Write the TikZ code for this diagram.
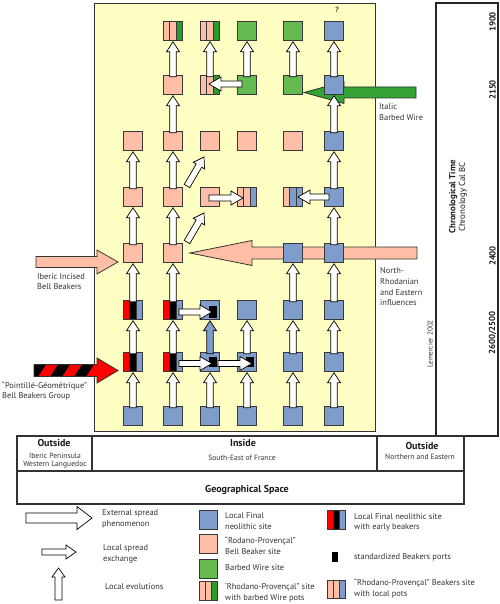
\documentclass[tikz,border=0pt]{standalone}
\usepackage{fontspec}
\setmainfont{PT Sans}
\usetikzlibrary{calc}
\definecolor{ybg}{HTML}{FFFFC4}
\definecolor{sblue}{HTML}{7F9DCA}
\definecolor{salm}{HTML}{FFBFA6}
\definecolor{lgreen}{HTML}{65BB50}
\definecolor{dgreen}{HTML}{2A9A2A}
\definecolor{agreen}{HTML}{34A334}
\definecolor{ink}{HTML}{333333}

% fat arrow polygon: style, start, end, shaft half width, head half width, head length
\newcommand\fatarrow[6]{%
  \coordinate (fa-s) at #2;
  \coordinate (fa-e) at #3;
  \coordinate (fa-h) at ($(fa-e)!#6!(fa-s)$);
  \path[#1] ($(fa-s)!#4!90:(fa-e)$) -- ($(fa-h)!#4!-90:(fa-s)$) -- ($(fa-h)!#5!-90:(fa-s)$) -- (fa-e) -- ($(fa-h)!#5!90:(fa-s)$) -- ($(fa-h)!#4!90:(fa-s)$) -- ($(fa-s)!#4!-90:(fa-e)$) -- cycle;
}
\newcommand\plainsq[4]{\node[sq, fill=#4] (#1) at (#2,#3) {};}
\newcommand\trisq[6]{%
  \node[sq] (#1) at (#2,#3) {};
  \fill[#4] (#1.south west) rectangle ($(#1.north west)!1/3!(#1.north east)$);
  \fill[#5] ($(#1.south west)!1/3!(#1.south east)$) rectangle ($(#1.north west)!2/3!(#1.north east)$);
  \fill[#6] ($(#1.south west)!2/3!(#1.south east)$) rectangle (#1.north east);
  \draw[sqline] ($(#1.south west)!1/3!(#1.south east)$) -- ($(#1.north west)!1/3!(#1.north east)$)
     ($(#1.south west)!2/3!(#1.south east)$) -- ($(#1.north west)!2/3!(#1.north east)$);
  \draw[sqline] (#1.south west) rectangle (#1.north east);
}
\newcommand\portsq[5]{%
  \node[sq, fill=sblue] (#1) at (#2,#3) {};
  \fill[black] ($(#1.center)+(-1,#4)$) rectangle ($(#1.center)+(6.5,#5)$);
}
\newcommand\evo[3][wa]{\fatarrow{#1}{($(#2.north)+(0,1)$)}{($(#3.south)+(0,1.5)$)}{3.2pt}{6.5pt}{10pt}}
\newcommand\hex[2]{\fatarrow{wa}{#1}{#2}{3pt}{7pt}{12pt}}

\begin{document}
\begin{tikzpicture}[x=1pt,y=-1pt,
  sq/.style={minimum size=18.5pt, inner sep=0pt, outer sep=0pt, draw=black!78, line width=0.9pt},
  sqline/.style={draw=black!78, line width=0.9pt},
  wa/.style={fill=white, draw=black, line width=0.7pt, line join=miter},
  bigarr/.style={draw=black!80, line width=0.8pt, line join=miter},
  lab/.style={font=\fontsize{8.4}{10.7}\selectfont, text=ink, align=left, anchor=west, inner sep=0pt},
  tsmall/.style={font=\fontsize{7.6}{7.6}\selectfont, text=ink, inner sep=0pt},
  thead/.style={font=\bfseries\fontsize{10}{12}\selectfont, text=black!90, inner sep=0pt},
  tnum/.style={font=\bfseries\fontsize{8.8}{10}\selectfont, text=black!90, rotate=90, inner sep=0pt}]
\useasboundingbox (0,0) rectangle (499,604);

\def\cxA{133}\def\cxB{173}\def\cxC{210}\def\cxD{247}\def\cxE{293}\def\cxF{334}
\def\ryA{31}\def\ryB{85}\def\ryC{141}\def\ryD{197}\def\ryE{253}\def\ryF{310}\def\ryG{362}\def\ryH{416}

% main yellow field
\draw[fill=ybg, draw=black!80, line width=0.8pt] (94,3) rectangle (375,431);

% big external arrows
\coordinate (nrS) at (417,253); \coordinate (nrE) at (190,253);
\fatarrow{bigarr, fill=salm}{(nrS)}{(nrE)}{6pt}{12.5pt}{62pt}
\coordinate (bwS) at (416,92.5); \coordinate (bwE) at (304,92.5);
\fatarrow{bigarr, fill=agreen}{(bwS)}{(bwE)}{5.5pt}{11pt}{40pt}
\coordinate (ibS) at (36,262); \coordinate (ibE) at (118,262);
\fatarrow{bigarr, fill=salm}{(ibS)}{(ibE)}{5.5pt}{12pt}{21pt}
\coordinate (pgS) at (34,370.5); \coordinate (pgE) at (118,370.5);
\fatarrow{fill=red}{(pgS)}{(pgE)}{6pt}{12.5pt}{21pt}
\begin{scope}
  \clip (34,364.5) rectangle (97,376.5);
  \foreach \a in {26,50,74,98} \fill[black] (\a,376.5) -- (\a+12,376.5) -- (\a+20,364.5) -- (\a+8,364.5) -- cycle;
\end{scope}
\fatarrow{bigarr}{(pgS)}{(pgE)}{6pt}{12.5pt}{21pt}

% row 1 (1900)
\trisq{r1c2}{\cxB}{\ryA}{salm}{salm}{dgreen}
\trisq{r1c3}{\cxC}{\ryA}{salm}{salm}{dgreen}
\plainsq{r1c4}{\cxD}{\ryA}{lgreen}
\plainsq{r1c5}{\cxE}{\ryA}{lgreen}
\plainsq{r1c6}{\cxF}{\ryA}{sblue}
% row 2
\plainsq{r2c2}{\cxB}{\ryB}{salm}
\trisq{r2c3}{\cxC}{\ryB}{salm}{salm}{dgreen}
\plainsq{r2c4}{\cxD}{\ryB}{lgreen}
\plainsq{r2c5}{\cxE}{\ryB}{lgreen}
\plainsq{r2c6}{\cxF}{\ryB}{sblue}
% row 3
\plainsq{r3c1}{\cxA}{\ryC}{salm}
\plainsq{r3c2}{\cxB}{\ryC}{salm}
\plainsq{r3c3}{\cxC}{\ryC}{salm}
\plainsq{r3c4}{\cxD}{\ryC}{salm}
\plainsq{r3c5}{\cxE}{\ryC}{salm}
\plainsq{r3c6}{\cxF}{\ryC}{sblue}
% row 4
\plainsq{r4c1}{\cxA}{\ryD}{salm}
\plainsq{r4c2}{\cxB}{\ryD}{salm}
\plainsq{r4c3}{\cxC}{\ryD}{salm}
\trisq{r4c4}{\cxD}{\ryD}{salm}{salm}{sblue}
\trisq{r4c5}{\cxE}{\ryD}{salm}{sblue}{sblue}
\plainsq{r4c6}{\cxF}{\ryD}{sblue}
% row 5
\plainsq{r5c1}{\cxA}{\ryE}{salm}
\plainsq{r5c2}{\cxB}{\ryE}{salm}
\plainsq{r5c5}{\cxE}{\ryE}{sblue}
\plainsq{r5c6}{\cxF}{\ryE}{sblue}
% row 6
\trisq{r6c1}{\cxA}{\ryF}{red}{black}{sblue}
\trisq{r6c2}{\cxB}{\ryF}{red}{black}{sblue}
\portsq{r6c3}{\cxC}{\ryF}{-4}{8}
\plainsq{r6c4}{\cxD}{\ryF}{sblue}
\plainsq{r6c5}{\cxE}{\ryF}{sblue}
\plainsq{r6c6}{\cxF}{\ryF}{sblue}
% row 7
\trisq{r7c1}{\cxA}{\ryG}{red}{black}{sblue}
\trisq{r7c2}{\cxB}{\ryG}{red}{black}{sblue}
\portsq{r7c3}{\cxC}{\ryG}{-5}{5}
\portsq{r7c4}{\cxD}{\ryG}{-5}{5}
\plainsq{r7c5}{\cxE}{\ryG}{sblue}
\plainsq{r7c6}{\cxF}{\ryG}{sblue}
% row 8
\plainsq{r8c1}{\cxA}{\ryH}{sblue}
\plainsq{r8c2}{\cxB}{\ryH}{sblue}
\plainsq{r8c3}{\cxC}{\ryH}{sblue}
\plainsq{r8c4}{\cxD}{\ryH}{sblue}
\plainsq{r8c5}{\cxE}{\ryH}{sblue}
\plainsq{r8c6}{\cxF}{\ryH}{sblue}

% local evolutions
\evo{r8c1}{r7c1}\evo{r8c2}{r7c2}\evo{r8c3}{r7c3}\evo{r8c4}{r7c4}\evo{r8c5}{r7c5}\evo{r8c6}{r7c6}
\evo{r7c1}{r6c1}\evo{r7c2}{r6c2}\evo[wa, fill=sblue]{r7c3}{r6c3}\evo{r7c4}{r6c4}\evo{r7c5}{r6c5}\evo{r7c6}{r6c6}
\evo{r6c1}{r5c1}\evo{r6c2}{r5c2}\evo{r6c5}{r5c5}\evo{r6c6}{r5c6}
\evo{r5c1}{r4c1}\evo{r5c2}{r4c2}\evo{r5c6}{r4c6}
\evo{r4c1}{r3c1}\evo{r4c2}{r3c2}\evo{r4c6}{r3c6}
\evo{r3c2}{r2c2}\evo{r3c6}{r2c6}
\evo{r2c2}{r1c2}\evo{r2c3}{r1c3}\evo{r2c4}{r1c4}\evo{r2c5}{r1c5}\evo{r2c6}{r1c6}
% diagonal local evolutions
\fatarrow{wa}{($(r5c2.center)+(14,-11)$)}{($(r4c3.center)+(-6,16)$)}{3.2pt}{6.5pt}{10pt}
\fatarrow{wa}{($(r4c2.center)+(14,-11)$)}{($(r3c3.center)+(-6,16)$)}{3.2pt}{6.5pt}{10pt}
% local spread exchanges
\hex{($(r7c2.center)+(6,1.5)$)}{($(r7c3.center)+(2,1.5)$)}
\hex{($(r7c3.center)+(8,1.5)$)}{($(r7c4.center)+(5,1.5)$)}
\hex{($(r6c2.center)+(6,2)$)}{($(r6c3.center)+(2,2)$)}
\hex{($(r4c3.center)+(-1,1)$)}{($(r4c4.center)+(-4,1)$)}
\hex{($(r4c6.center)+(-5,0)$)}{($(r4c5.center)+(5,0)$)}
\hex{($(r2c4.center)+(-5,-1)$)}{($(r2c3.center)+(-1,-1)$)}

\node[font=\bfseries\fontsize{7.5}{8}\selectfont, text=ink, inner sep=0pt] (qm) at (337,10) {?};

% labels of external arrows
\node[lab] (lbw) at (379,112) {Italic\\Barbed Wire};
\node[lab] (lnr) at (380,287) {North-\\Rhodanian\\and Eastern\\influences};
\node[lab] (lib) at (37,281.5) {Iberic Incised\\Bell Beakers};
\node[lab] (lpg) at (2,391) {“Pointillé-Géométrique”\\Bell Beakers Group};
\node[font=\fontsize{7.2}{8}\selectfont, text=ink, rotate=90, inner sep=0pt] (lem) at (430,344) {Lemercier 2002};

% chronology box
\draw[line width=1.2pt, draw=black!85] (436,3) rectangle (498,436);
\node[tnum] (t1900) at (492.5,22) {1900};
\node[tnum] (t2150) at (492.5,90) {2150};
\node[tnum] (t2400) at (492.5,256) {2400};
\node[tnum] (t2600) at (492.5,333) {2600/2500};
\node[rotate=90, align=center, inner sep=0pt, text=black!90, font=\fontsize{8.8}{9.8}\selectfont] (ttl) at (458,197) {\textbf{Chronological Time}\\Chronology Cal BC};

% geographical table
\draw[line width=1.2pt, draw=black!80] (17,436) rectangle (464,504);
\draw[line width=1.2pt, draw=black!80] (17,471) -- (464,471) (92,436) -- (92,471) (377,436) -- (377,471);
\node[thead] (o1) at (54,443) {Outside};
\begin{scope}
  \clip (17,436) rectangle (92,471);
  \node[tsmall, align=center] (o1t) at (55,460.8) {Iberic Peninsula\\Western Languedoc};
\end{scope}
\node[thead] (ins) at (243,443) {Inside};
\node[tsmall] (inst) at (242,458) {South-East of France};
\node[thead] (o2) at (422,446) {Outside};
\node[tsmall] (o2t) at (420,457) {Northern and Eastern};
\node[thead] (geo) at (247,490) {Geographical Space};

% legend
\coordinate (lgA1) at (26,518); \coordinate (lgA2) at (92,518);
\fatarrow{wa}{(lgA1)}{(lgA2)}{5pt}{11.5pt}{15pt}
\coordinate (lgB1) at (42,552); \coordinate (lgB2) at (76,552);
\fatarrow{wa}{(lgB1)}{(lgB2)}{3pt}{7pt}{10pt}
\coordinate (lgC1) at (58.5,600); \coordinate (lgC2) at (58.5,568);
\fatarrow{wa}{(lgC1)}{(lgC2)}{3.5pt}{6.5pt}{9pt}
\node[lab] (lt1) at (102,519) {External spread\\phenomenon};
\node[lab] (lt2) at (103,554) {Local spread\\exchange};
\node[lab] (lt3) at (105,587) {Local evolutions};

\plainsq{lsq1}{208.5}{520}{sblue}
\plainsq{lsq2}{208.5}{544}{salm}
\plainsq{lsq3}{208.5}{569}{lgreen}
\trisq{lsq4}{208.5}{591}{salm}{salm}{dgreen}
\node[lab] (ls1) at (225,521) {Local Final\\neolithic site};
\node[lab] (ls2) at (225,545.5) {“Rodano-Provençal”\\Bell Beaker site};
\node[lab] (ls3) at (225,568) {Barbed Wire site};
\node[lab] (ls4) at (225,592.5) {‘Rhodano-Provençal” site\\with barbed Wire pots};

\trisq{lsq5}{336.5}{520}{red}{black}{sblue}
\node[fill=black, minimum width=6pt, minimum height=10pt, inner sep=0pt] (lsq6) at (335,557) {};
\trisq{lsq7}{336.5}{589.5}{salm}{salm}{sblue}
\node[lab] (ls5) at (354,522.5) {Local Final neolithic site\\with early beakers};
\node[lab] (ls6) at (354,557) {standardized Beakers ports};
\node[lab] (ls7) at (354,588.5) {“Rhodano-Provençal” Beakers site\\with local pots};
\end{tikzpicture}
\end{document}
